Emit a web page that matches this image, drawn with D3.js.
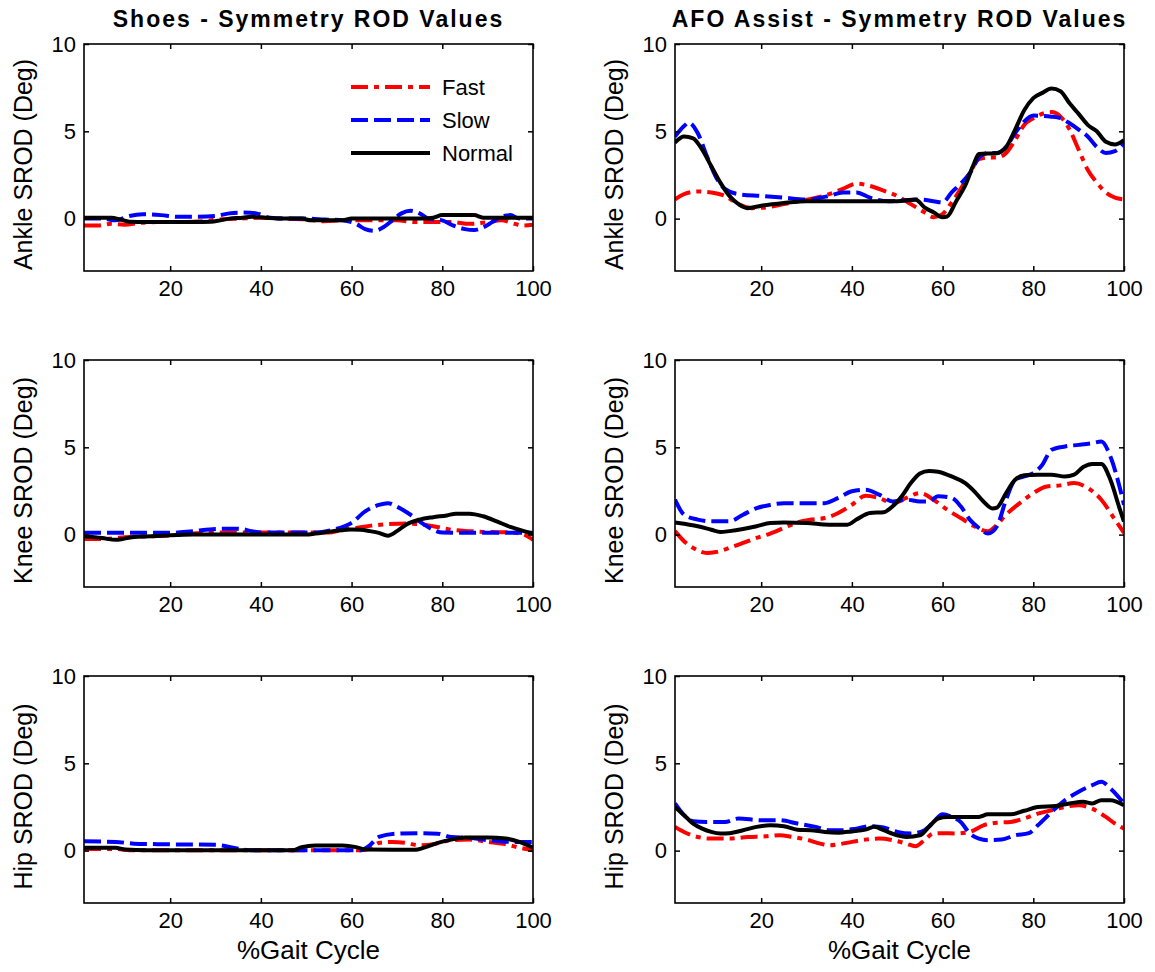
<!DOCTYPE html>
<html>
<head>
<meta charset="utf-8">
<script src="https://cdn.jsdelivr.net/npm/d3@7"></script>
<style>
  html, body { margin: 0; padding: 0; background: #fff; }
  svg { display: block; }
  text { font-family: "Liberation Sans", Arial, Helvetica, sans-serif; fill: #000; }
</style>
</head>
<body>
<svg id="chart" width="1155" height="972"></svg>
<script>
// ---- Data: symmetry ROD (deg) over the gait cycle, [% gait, value] ----
const conditions = ["Shoes", "AFO Assist"];
const joints = ["Ankle", "Knee", "Hip"];
const speeds = ["Fast", "Slow", "Normal"];
const gaitTicks = [20, 40, 60, 80, 100];
const rodTicks = [0, 5, 10];

const shoesAnkleFast = [[1,-0.4],[4,-0.4],[7,-0.3],[10,-0.35],[13,-0.25],[17,-0.2],[22,-0.2],[27,-0.15],[31,-0.05],[35,0.0],[40,0.05],[45,0.0],[50,-0.05],[54,-0.15],[58,-0.1],[62,-0.1],[66,-0.1],[70,-0.1],[74,-0.2],[78,-0.2],[82,-0.2],[86,-0.3],[90,-0.2],[93,-0.1],[96,-0.3],[98,-0.4],[100,-0.35]];
const shoesAnkleSlow = [[1,0.0],[5,0.0],[8,-0.1],[11,0.15],[14,0.25],[18,0.2],[22,0.1],[26,0.1],[30,0.15],[33,0.3],[36,0.35],[39,0.3],[42,0.05],[46,0.0],[50,0.0],[54,-0.05],[58,-0.1],[61,-0.3],[63,-0.6],[65,-0.7],[67,-0.5],[69,-0.1],[71,0.3],[73,0.45],[75,0.3],[77,0.0],[80,-0.1],[82,-0.35],[85,-0.6],[87,-0.65],[89,-0.5],[91,-0.2],[93,0.1],[95,0.2],[97,0.0],[100,0.0]];
const shoesAnkleNormal = [[1,0.05],[4,0.05],[7,0.05],[9,-0.05],[11,-0.18],[15,-0.2],[20,-0.2],[25,-0.2],[29,-0.18],[31,-0.1],[33,0.0],[36,0.05],[38,0.1],[41,0.05],[45,0.0],[49,0.0],[51,-0.1],[55,-0.1],[58,-0.1],[60,0.0],[65,0.0],[70,0.0],[75,0.0],[78,0.05],[80,0.2],[84,0.2],[87,0.2],[89,0.05],[92,0.05],[96,0.05],[100,0.05]];

const afoAnkleFast = [[1,1.1],[3,1.4],[6,1.55],[9,1.5],[12,1.3],[15,0.83],[18,0.6],[21,0.64],[25,0.83],[30,1.08],[35,1.4],[38,1.7],[41,2.0],[44,1.87],[47,1.6],[50,1.3],[53,0.83],[56,0.36],[58,0.08],[60,0.26],[62,0.93],[64,1.7],[66,2.6],[68,3.4],[70,3.5],[72,3.5],[74,3.76],[76,4.5],[78,5.37],[80,5.75],[84,6.1],[86,5.84],[88,5.1],[90,3.95],[92,2.8],[94,2.06],[96,1.5],[98,1.2],[100,1.1]];
const afoAnkleSlow = [[1,4.7],[3,5.3],[4,5.5],[6,4.9],[8,3.6],[10,2.4],[12,1.7],[15,1.4],[20,1.3],[25,1.2],[30,1.1],[35,1.3],[38,1.5],[41,1.5],[44,1.2],[48,1.0],[52,1.05],[55,1.1],[58,1.0],[60,0.93],[62,1.5],[64,2.0],[66,2.6],[68,3.5],[70,3.76],[72,3.76],[74,4.1],[76,4.9],[78,5.56],[80,5.9],[84,5.84],[86,5.75],[88,5.46],[90,5.1],[92,4.7],[94,4.1],[96,3.76],[98,3.86],[100,4.33]];
const afoAnkleNormal = [[1,4.35],[3,4.7],[5,4.6],[7,3.95],[9,3.0],[11,2.06],[13,1.3],[15,0.83],[17,0.6],[20,0.74],[25,0.9],[30,1.0],[40,1.0],[50,1.0],[54,1.1],[56,0.65],[58,0.36],[60,0.08],[61,0.12],[63,1.0],[65,1.9],[67,3.2],[68,3.7],[72,3.75],[74,4.1],[76,5.1],[78,6.2],[80,6.9],[82,7.2],[84,7.45],[86,7.3],[88,6.6],[90,6.0],[92,5.37],[94,5.0],[96,4.4],[98,4.25],[100,4.5]];

const shoesKneeFast = [[1,-0.25],[5,-0.25],[10,-0.15],[15,-0.1],[20,-0.04],[25,0.06],[30,0.12],[55,0.12],[58,0.28],[60,0.34],[64,0.5],[68,0.6],[72,0.63],[75,0.6],[78,0.48],[82,0.28],[86,0.2],[90,0.15],[95,0.13],[98,0.0],[100,-0.3]];
const shoesKneeSlow = [[1,0.1],[20,0.1],[25,0.2],[30,0.32],[35,0.34],[38,0.2],[40,0.12],[52,0.12],[56,0.28],[60,0.67],[63,1.33],[66,1.7],[68,1.8],[70,1.6],[73,1.14],[76,0.57],[78,0.28],[80,0.12],[85,0.1],[100,0.1]];
const shoesKneeNormal = [[1,-0.1],[5,-0.2],[8,-0.3],[12,-0.13],[16,-0.1],[20,-0.04],[25,0.0],[50,0.0],[52,0.06],[56,0.2],[60,0.3],[62,0.28],[64,0.2],[66,0.1],[68,-0.06],[70,0.2],[72,0.57],[75,0.86],[78,1.0],[81,1.1],[83,1.2],[86,1.2],[89,1.05],[92,0.76],[95,0.44],[98,0.2],[100,0.06]];

const afoKneeFast = [[1,0.2],[3,-0.38],[5,-0.76],[8,-1.05],[10,-1.0],[13,-0.76],[16,-0.48],[19,-0.19],[22,0.06],[25,0.38],[28,0.7],[31,0.86],[34,0.95],[37,1.24],[40,1.71],[43,2.23],[46,2.1],[49,1.8],[52,2.1],[55,2.38],[58,2.0],[61,1.43],[64,0.95],[67,0.48],[70,0.19],[72,0.57],[74,1.14],[77,1.8],[80,2.38],[83,2.76],[86,2.82],[89,2.95],[92,2.67],[95,2.0],[98,0.86],[100,0.1]];
const afoKneeSlow = [[1,2.0],[3,1.14],[6,0.86],[9,0.76],[13,0.76],[16,1.14],[19,1.52],[22,1.7],[25,1.8],[30,1.8],[34,1.8],[37,2.1],[40,2.48],[43,2.57],[46,2.29],[49,1.9],[52,2.0],[55,1.9],[57,1.9],[59,2.2],[62,2.1],[64,1.62],[66,0.86],[68,0.38],[70,0.06],[72,0.48],[74,2.0],[76,3.14],[78,3.33],[80,3.52],[82,4.0],[84,4.86],[87,5.05],[90,5.14],[93,5.24],[95,5.33],[97,4.48],[99,2.76],[100,1.71]];
const afoKneeNormal = [[1,0.7],[3,0.62],[6,0.48],[9,0.28],[11,0.15],[13,0.2],[16,0.32],[19,0.48],[22,0.67],[25,0.7],[30,0.67],[35,0.57],[39,0.57],[41,0.86],[44,1.24],[47,1.28],[49,1.62],[51,2.2],[53,2.95],[55,3.5],[57,3.65],[59,3.6],[62,3.33],[65,2.95],[67,2.48],[69,1.9],[71,1.5],[72,1.55],[74,2.38],[76,3.14],[78,3.4],[81,3.43],[84,3.43],[87,3.33],[89,3.43],[91,3.87],[93,4.05],[95,4.05],[97,3.14],[99,1.52],[100,0.75]];

const shoesHipFast = [[1,0.08],[8,0.1],[11,0.02],[62,0.02],[64,0.1],[66,0.44],[69,0.5],[72,0.44],[75,0.3],[78,0.36],[82,0.6],[86,0.63],[90,0.5],[94,0.36],[97,0.17],[100,0.02]];
const shoesHipSlow = [[1,0.53],[8,0.5],[12,0.4],[20,0.36],[30,0.33],[35,0.11],[38,0.02],[62,0.02],[64,0.3],[66,0.78],[70,0.97],[75,1.0],[79,0.97],[82,0.78],[86,0.73],[90,0.6],[95,0.5],[100,0.5]];
const shoesHipNormal = [[1,0.17],[8,0.17],[10,0.06],[15,0.02],[47,0.02],[49,0.2],[52,0.3],[58,0.3],[61,0.2],[63,0.06],[74,0.05],[76,0.17],[79,0.44],[82,0.63],[85,0.75],[90,0.75],[94,0.69],[97,0.5],[100,0.17]];

const afoHipFast = [[1,1.36],[3,1.07],[6,0.78],[9,0.69],[13,0.69],[17,0.78],[21,0.82],[24,0.88],[27,0.78],[30,0.63],[33,0.4],[35,0.3],[37,0.36],[40,0.5],[43,0.63],[46,0.69],[49,0.6],[52,0.4],[54,0.25],[56,0.6],[58,0.98],[60,1.0],[63,0.98],[66,1.07],[69,1.45],[72,1.6],[75,1.64],[78,1.84],[81,2.12],[84,2.31],[87,2.5],[90,2.6],[93,2.4],[96,1.93],[98,1.55],[100,1.26]];
const afoHipSlow = [[1,2.7],[3,2.03],[5,1.68],[8,1.64],[12,1.64],[15,1.84],[20,1.74],[24,1.74],[28,1.55],[32,1.36],[35,1.17],[38,1.17],[41,1.26],[44,1.4],[47,1.32],[50,1.07],[53,0.98],[56,1.17],[58,1.64],[60,2.08],[62,1.93],[64,1.64],[66,0.98],[68,0.69],[70,0.6],[73,0.63],[76,0.88],[79,1.0],[81,1.45],[84,2.2],[87,2.89],[90,3.37],[93,3.75],[95,3.94],[97,3.56],[100,2.7]];
const afoHipNormal = [[1,2.5],[3,2.03],[5,1.55],[7,1.26],[9,1.07],[11,0.98],[13,1.0],[16,1.17],[19,1.36],[22,1.45],[25,1.4],[28,1.2],[31,1.17],[34,1.07],[37,1.03],[40,1.1],[43,1.2],[45,1.36],[47,1.17],[50,0.88],[52,0.78],[55,0.88],[57,1.36],[59,1.84],[61,1.93],[65,1.93],[68,1.93],[70,2.08],[75,2.08],[78,2.28],[81,2.5],[85,2.56],[88,2.7],[91,2.8],[93,2.7],[95,2.89],[97,2.89],[100,2.6]];

const panelData = {
  "Shoes|Ankle": { Fast: shoesAnkleFast, Slow: shoesAnkleSlow, Normal: shoesAnkleNormal },
  "AFO Assist|Ankle": { Fast: afoAnkleFast, Slow: afoAnkleSlow, Normal: afoAnkleNormal },
  "Shoes|Knee": { Fast: shoesKneeFast, Slow: shoesKneeSlow, Normal: shoesKneeNormal },
  "AFO Assist|Knee": { Fast: afoKneeFast, Slow: afoKneeSlow, Normal: afoKneeNormal },
  "Shoes|Hip": { Fast: shoesHipFast, Slow: shoesHipSlow, Normal: shoesHipNormal },
  "AFO Assist|Hip": { Fast: afoHipFast, Slow: afoHipSlow, Normal: afoHipNormal }
};

// ---- Styling ----
const speedStyle = {
  Fast:   { color: "#ff0000", dash: "17,6,5,6" },
  Slow:   { color: "#0000ff", dash: "17,6" },
  Normal: { color: "#000000", dash: null }
};

// ---- Layout ----
const colLeft = [84, 675];
const axW = 449;
const rowTop = [44, 360, 676];
const axH = 227;

const svg = d3.select("#chart");
svg.append("rect").attr("width", 1155).attr("height", 972).attr("fill", "#fff");

const x = d3.scaleLinear().domain([1, 100]).range([0, axW]);
const y = d3.scaleLinear().domain([-3, 10]).range([axH, 0]);

const line = d3.line()
  .x(d => x(d[0]))
  .y(d => y(d[1]))
  .curve(d3.curveMonotoneX);

joints.forEach((joint, ri) => {
  conditions.forEach((cond, ci) => {
    const g = svg.append("g")
      .attr("transform", `translate(${colLeft[ci]},${rowTop[ri]})`);

    const clipId = `clip-${ri}-${ci}`;
    g.append("clipPath").attr("id", clipId)
      .append("rect").attr("width", axW).attr("height", axH);

    // series
    const series = panelData[`${cond}|${joint}`];
    const plot = g.append("g").attr("clip-path", `url(#${clipId})`);
    speeds.forEach(sp => {
      const st = speedStyle[sp];
      plot.append("path")
        .datum(series[sp])
        .attr("fill", "none")
        .attr("stroke", st.color)
        .attr("stroke-width", 4)
        .attr("stroke-linejoin", "round")
        .attr("stroke-dasharray", st.dash)
        .attr("d", line);
    });

    // axes with inward ticks on all four sides
    const bottom = g.append("g").attr("transform", `translate(0,${axH})`)
      .call(d3.axisBottom(x).tickValues(gaitTicks).tickSizeInner(-5).tickSizeOuter(0).tickPadding(9));
    const top = g.append("g")
      .call(d3.axisTop(x).tickValues(gaitTicks).tickSizeInner(-5).tickSizeOuter(0).tickFormat(""));
    const left = g.append("g")
      .call(d3.axisLeft(y).tickValues(rodTicks).tickSizeInner(-5).tickSizeOuter(0).tickPadding(8));
    const right = g.append("g").attr("transform", `translate(${axW},0)`)
      .call(d3.axisRight(y).tickValues(rodTicks).tickSizeInner(-5).tickSizeOuter(0).tickFormat(""));

    [bottom, top, left, right].forEach(a => {
      a.select(".domain").remove();
      a.selectAll(".tick line").attr("stroke", "#000").attr("stroke-width", 1.5);
      a.selectAll(".tick text").attr("font-size", 22).attr("fill", "#000")
        .style("font-family", '"Liberation Sans", Arial, sans-serif');
    });

    g.append("rect")
      .attr("width", axW).attr("height", axH)
      .attr("fill", "none").attr("stroke", "#000").attr("stroke-width", 1.6);

    // y label
    g.append("text")
      .attr("transform", `translate(-52,${axH / 2 + 7}) rotate(-90)`)
      .attr("text-anchor", "middle")
      .attr("font-size", 25)
      .text(`${joint} SROD (Deg)`);

    // title on top row
    if (ri === 0) {
      g.append("text")
        .attr("x", axW / 2).attr("y", -17)
        .attr("text-anchor", "middle")
        .attr("font-size", 23)
        .attr("font-weight", "bold")
        .attr("letter-spacing", 2)
        .text(`${cond} - Symmetry ROD Values`);
    }

    // x label on bottom row
    if (ri === joints.length - 1) {
      g.append("text")
        .attr("x", axW / 2).attr("y", axH + 56)
        .attr("text-anchor", "middle")
        .attr("font-size", 26)
        .text("%Gait Cycle");
    }

    // legend in first panel
    if (ri === 0 && ci === 0) {
      const lg = g.append("g").attr("transform", "translate(267,43)");
      speeds.forEach((sp, i) => {
        const st = speedStyle[sp];
        const yy = i * 33;
        lg.append("line")
          .attr("x1", 0).attr("x2", 79).attr("y1", yy).attr("y2", yy)
          .attr("stroke", st.color).attr("stroke-width", 4)
          .attr("stroke-dasharray", st.dash);
        lg.append("text")
          .attr("x", 91).attr("y", yy)
          .attr("dy", "0.35em")
          .attr("font-size", 22)
          .text(sp);
      });
    }
  });
});
</script>
</body>
</html>
